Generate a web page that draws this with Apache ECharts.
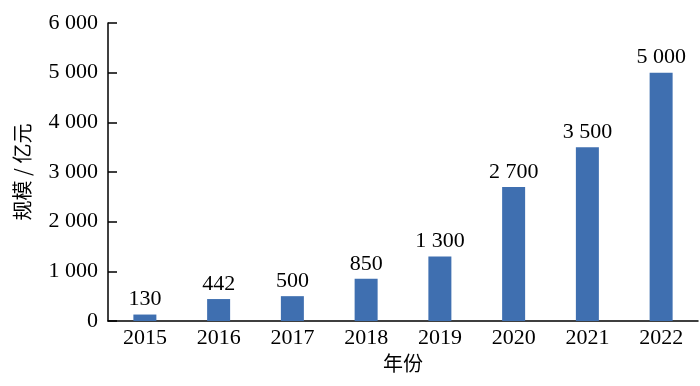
<!DOCTYPE html>
<html><head><meta charset="utf-8">
<script src="https://cdn.jsdelivr.net/npm/echarts@6/dist/echarts.min.js"></script>
<style>html,body{margin:0;padding:0;background:#fff}#c{width:700px;height:386px}</style>
</head><body><div id="c"></div>
<script>
const years = ['2015','2016','2017','2018','2019','2020','2021','2022'];
const values = [130, 442, 500, 850, 1300, 2700, 3500, 5000];
const yTicks = {min: 0, max: 6000, interval: 1000};

function fmt(v){ return String(v).replace(/\B(?=(\d{3})+(?!\d))/g, ' '); }
const serif = 'Liberation Serif, Times New Roman, serif';
const cjk = 'Noto Sans CJK SC';
const chart = echarts.init(document.getElementById('c'));
chart.setOption({
  animation: false,
  backgroundColor: '#fff',
  grid: {left: 108, right: 2, top: 23, bottom: 65, containLabel: false},
  xAxis: {
    type: 'category', data: years,
    axisLine: {lineStyle: {color: '#000', width: 1.5}},
    axisTick: {show: false},
    axisLabel: {color: '#000', fontFamily: serif, fontSize: 22, margin: 6},
    name: '年份', nameLocation: 'middle', nameGap: 28,
    nameTextStyle: {color: '#000', fontFamily: cjk, fontSize: 20}
  },
  yAxis: {
    type: 'value', min: yTicks.min, max: yTicks.max, interval: yTicks.interval,
    axisLine: {show: true, lineStyle: {color: '#000', width: 1.5}},
    axisTick: {show: true, inside: true, length: 9, lineStyle: {color: '#000', width: 1.5}},
    splitLine: {show: false},
    axisLabel: {color: '#000', fontFamily: serif, fontSize: 22, margin: 10, formatter: fmt},
    name: '规模 / 亿元', nameLocation: 'middle', nameGap: 76,
    nameTextStyle: {color: '#000', fontFamily: cjk, fontSize: 20}
  },
  series: [{
    type: 'bar', data: values, barWidth: 23,
    itemStyle: {color: '#3f6fb0'},
    label: {show: true, position: 'top', distance: 4, color: '#000', fontFamily: serif, fontSize: 22, formatter: p => fmt(p.value)}
  }]
});
</script></body></html>
